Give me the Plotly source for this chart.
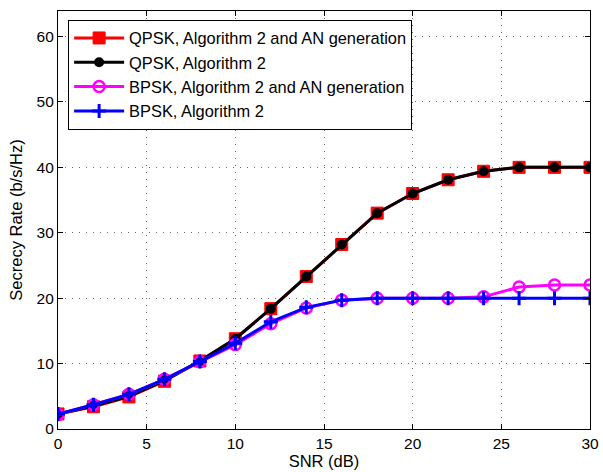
import plotly.graph_objects as go

snr = [0, 2, 4, 6, 8, 10, 12, 14, 16, 18, 20, 22, 24, 26, 28, 30]
qpsk_an = [2.3, 3.4, 4.9, 7.3, 10.4, 13.8, 18.4, 23.3, 28.2, 33.0, 36.0, 38.1, 39.4, 40.0, 40.0, 40.0]
qpsk = [2.3, 3.5, 5.0, 7.4, 10.4, 13.8, 18.4, 23.3, 28.2, 33.0, 36.0, 38.1, 39.4, 40.0, 40.0, 40.0]
bpsk_an = [2.2, 3.7, 5.3, 7.6, 10.3, 12.9, 16.1, 18.5, 19.7, 20.0, 20.0, 20.0, 20.2, 21.7, 22.0, 22.0]
bpsk = [2.3, 3.7, 5.3, 7.6, 10.3, 13.1, 16.4, 18.6, 19.7, 20.0, 20.0, 20.0, 20.0, 20.0, 20.0, 20.0]

names = ["QPSK, Algorithm 2 and AN generation", "QPSK, Algorithm 2",
         "BPSK, Algorithm 2 and AN generation", "BPSK, Algorithm 2"]

FONT = "Liberation Sans, Arial"

fig = go.Figure()
fig.add_trace(go.Scatter(x=snr, y=qpsk_an, name=names[0], mode="lines+markers",
                         line=dict(color="red", width=3),
                         marker=dict(symbol="square", size=12, color="red",
                                     line=dict(color="red", width=1))))
fig.add_trace(go.Scatter(x=snr, y=qpsk, name=names[1], mode="lines+markers",
                         line=dict(color="black", width=3),
                         marker=dict(symbol="circle", size=10, color="black")))
fig.add_trace(go.Scatter(x=snr, y=bpsk_an, name=names[2], mode="lines+markers",
                         line=dict(color="#ff00ff", width=3),
                         marker=dict(symbol="circle-open", size=11, color="#ff00ff",
                                     line=dict(color="#ff00ff", width=2.5))))
fig.add_trace(go.Scatter(x=snr, y=bpsk, name=names[3], mode="lines+markers",
                         line=dict(color="blue", width=3),
                         marker=dict(symbol="cross-thin-open", size=10, color="blue",
                                     line=dict(color="blue", width=3))))

axis_common = dict(
    showline=True, linecolor="black", linewidth=1.2, mirror="ticks",
    ticks="inside", ticklen=5, tickcolor="black", automargin=False,
    showgrid=True, gridcolor="#666666", griddash="1px,6px", gridwidth=1,
    zeroline=False, tickfont=dict(family=FONT, size=15.5, color="black"),
)

fig.update_xaxes(range=[0, 30], tickvals=[0, 5, 10, 15, 20, 25, 30],
                 title=dict(text="SNR (dB)", standoff=1,
                            font=dict(family=FONT, size=16.5, color="black")),
                 **axis_common)
fig.update_yaxes(range=[0, 63.9], tickvals=[0, 10, 20, 30, 40, 50, 60],
                 title=dict(text="Secrecy Rate (b/s/Hz)", standoff=9,
                            font=dict(family=FONT, size=16.5, color="black")),
                 **axis_common)

fig.update_layout(
    width=603, height=472,
    margin=dict(l=58, r=13, t=11, b=43, autoexpand=False),
    paper_bgcolor="white", plot_bgcolor="white",
    font=dict(family=FONT, size=15, color="black"),
    legend=dict(x=0.019, y=0.979, xanchor="left", yanchor="top",
                bgcolor="white", bordercolor="black", borderwidth=1,
                itemwidth=50,
                font=dict(family=FONT, size=16.4, color="black"), tracegroupgap=0),
    showlegend=True,
)

fig.write_html("out.html", config={"displayModeBar": False},
               post_script="document.body.style.margin='0';")
